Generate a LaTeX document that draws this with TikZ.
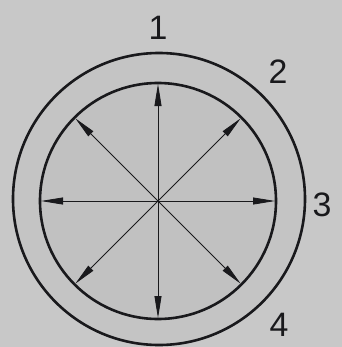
\documentclass[tikz,border=0pt]{standalone}
\usepackage{fontspec}
\setmainfont{Liberation Sans}
\usetikzlibrary{arrows.meta,calc}
\definecolor{bg}{RGB}{200,200,200}
\definecolor{ringfill}{RGB}{196,196,196}
\definecolor{innerfill}{RGB}{193,193,193}
\definecolor{ink}{RGB}{25,25,28}
\tikzset{
  ringline/.style={draw=ink,line width=2.6bp},
  ray/.style={draw=ink,line width=0.8bp,-{Triangle[length=22bp,width=7bp]}},
  lbl/.style={font=\fontsize{34}{34}\selectfont,text=ink,inner sep=0pt}
}
\begin{document}
\begin{tikzpicture}[x=1bp,y=-1bp]
\fill[bg] (0,0) rectangle (342,347);
\useasboundingbox (0,0) rectangle (342,347);
\coordinate (c) at (158,201);
\path[ringline,fill=ringfill] (159,199) circle[radius=146];
\path[ringline,fill=innerfill] (c) circle[radius=118];
\foreach \a/\n in {0/e,45/ne,90/n,135/nw,180/w,225/sw,270/s,315/se}{
  \coordinate (\n) at ($(c)+(\a:117)$);
}
\foreach \n in {e,ne,n,nw,w,sw,s,se}{
  \draw[ray] (c) -- (\n);
}
\node[lbl] (l1) at (158,28) {1};
\node[lbl] (l2) at (278,72) {2};
\node[lbl] (l3) at (322,205) {3};
\node[lbl] (l4) at (279,325) {4};
\end{tikzpicture}
\end{document}
